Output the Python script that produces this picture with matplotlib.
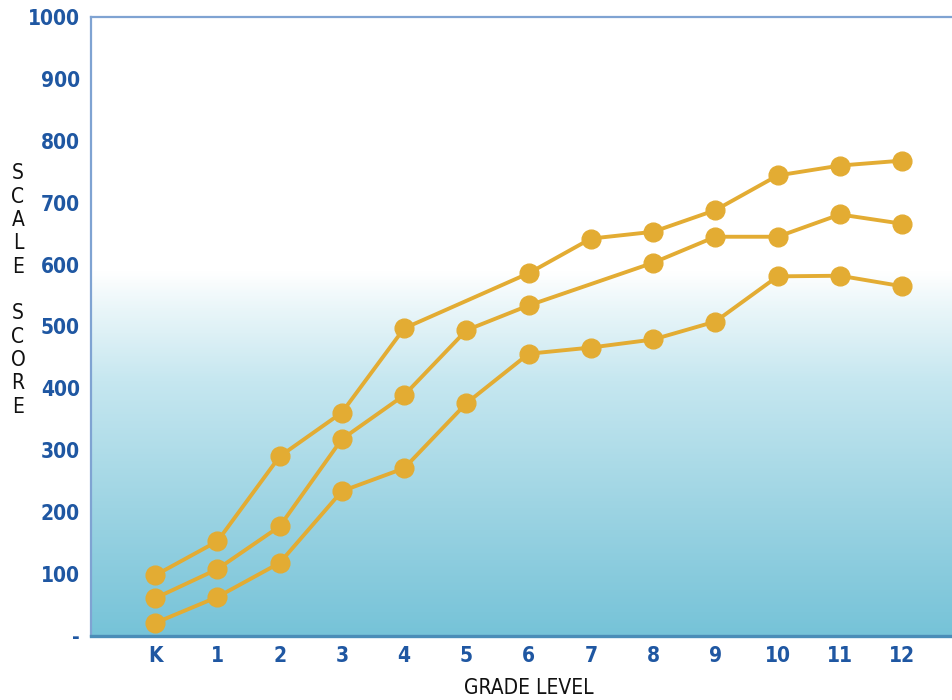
import numpy as np
import matplotlib
matplotlib.use("Agg")
import matplotlib.pyplot as plt
from matplotlib.colors import LinearSegmentedColormap

grades = ["K", "1", "2", "3", "4", "5", "6", "7", "8", "9", "10", "11", "12"]
# None = no reading for that grade (line runs straight past it)
upper = [98, 153, 290, 361, 497, None, 586, 642, 653, 688, 744, 760, 768]
middle = [61, 108, 177, 318, 389, 494, 534, None, 603, 645, 645, 681, 666]
lower = [21, 63, 118, 234, 271, 376, 456, 466, 479, 508, 581, 582, 565]

yticks = [0, 100, 200, 300, 400, 500, 600, 700, 800, 900, 1000]
ytick_labels = ["-"] + [str(v) for v in yticks[1:]]

gold = "#E3AC33"
tick_blue = "#1F57A2"
narrow = ["Liberation Sans Narrow", "DejaVu Sans"]

fig = plt.figure(figsize=(9.52, 7.0), dpi=100)
ax = fig.add_axes([91 / 952, 64 / 700, 1 - 91 / 952, 619 / 700])

xmin, xmax = -1.03, 12.8
ax.set_xlim(xmin, xmax)
ax.set_ylim(0, 1000)

# background: white in the upper part, fading to teal at the bottom
bg = LinearSegmentedColormap.from_list(
    "bg",
    [(0.0, "#76C3D8"), (0.35, "#9DD4E3"), (0.7, "#C6E7F0"),
     (0.9, "#EAF6F9"), (1.0, "#FFFFFF")])
vals = np.linspace(0, 1000, 500)
grad = np.clip(vals / 590.0, 0, 1)[:, None]
ax.imshow(grad, cmap=bg, vmin=0, vmax=1, origin="lower", aspect="auto",
          extent=[xmin, xmax, 0, 1000], zorder=0, interpolation="bilinear")

x = np.arange(len(grades))
for series in (upper, middle, lower):
    xs = [xi for xi, v in zip(x, series) if v is not None]
    ys = [v for v in series if v is not None]
    ax.plot(xs, ys, color=gold, lw=2.8, marker="o", ms=13.5,
            mec=gold, mfc=gold, zorder=3, solid_capstyle="round")

ax.set_xticks(x)
ax.set_xticklabels(grades)
ax.set_yticks(yticks)
ax.set_yticklabels(ytick_labels)
ax.tick_params(axis="both", length=0, colors=tick_blue)
ax.tick_params(axis="x", pad=7)
ax.tick_params(axis="y", pad=8)
for lab in ax.get_xticklabels() + ax.get_yticklabels():
    lab.set_fontfamily(narrow)
    lab.set_fontstretch("condensed")
    lab.set_fontweight("bold")
    lab.set_fontsize(15)

ax.spines["right"].set_visible(False)
ax.spines["top"].set_color("#7FA3D2")
ax.spines["top"].set_linewidth(1.6)
ax.spines["left"].set_color("#7FA3D2")
ax.spines["left"].set_linewidth(1.6)
ax.spines["bottom"].set_color("#4A8DB8")
ax.spines["bottom"].set_linewidth(2.4)

ax.set_xlabel("GRADE LEVEL", family=narrow, fontsize=15, color="#111111",
              labelpad=8, fontstretch="condensed")
ax.xaxis.set_label_coords(0.508, -0.068)
fig.text(18 / 952, 1 - 290 / 700, "\n".join("SCALE SCORE"), family=narrow,
         fontsize=15, color="#111111", ha="center", va="center",
         linespacing=1.21, fontstretch="condensed")

fig.savefig("out.png", dpi=100)
